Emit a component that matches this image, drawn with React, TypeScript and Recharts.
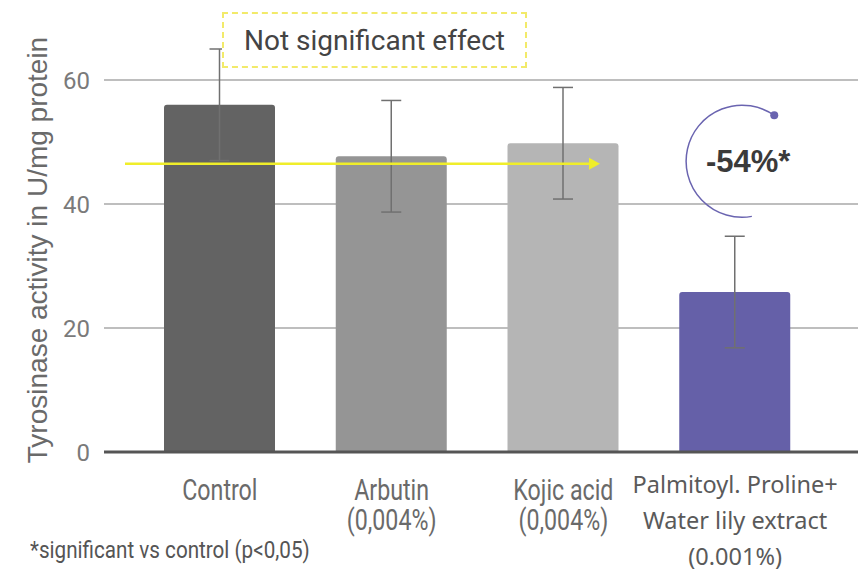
import React from "react";
import {
  BarChart,
  Bar,
  Cell,
  XAxis,
  YAxis,
  CartesianGrid,
  ErrorBar,
  ReferenceLine,
  ReferenceDot,
} from "recharts";

const categories = [
  "Control",
  "Arbutin\n(0,004%)",
  "Kojic acid\n(0,004%)",
  "Palmitoyl. Proline+\nWater lily extract\n(0.001%)",
];
const activity = [56, 47.7, 49.8, 25.8];
const deviation = [9, 9, 9, 9];
const barColors = ["#636363", "#959595", "#b5b5b5", "#6560a8"];
const yTicks = [0, 20, 40, 60];

const data = categories.map((name, i) => ({
  name,
  value: activity[i],
  err: deviation[i],
}));

function CategoryTick(props: any) {
  const { x, y, payload } = props;
  const lines: string[] = String(payload.value).split("\n");
  const isLong = lines.length > 2;
  if (isLong) {
    return (
      <g transform={`translate(${x},${y})`}>
        <text textAnchor="middle" fill="#5a5a5a" fontSize={23.5} fontFamily="'Noto Sans', sans-serif">
          {lines.map((l, i) => (
            <tspan key={i} x={0} dy={i === 0 ? 33 : 36}>
              {l}
            </tspan>
          ))}
        </text>
      </g>
    );
  }
  return (
    <g transform={`translate(${x},${y}) scale(0.8,1)`}>
      <text textAnchor="middle" fill="#6a6a6a" fontSize={29} fontFamily="Roboto, sans-serif">
        {lines.map((l, i) => (
          <tspan key={i} x={0} dy={i === 0 ? 40 : 30}>
            {l}
          </tspan>
        ))}
      </text>
    </g>
  );
}

function ArrowShape(props: any) {
  const { x1, x2, y1 } = props;
  const start = x1 + 21;
  const end = x2 - 258;
  return (
    <g>
      <line x1={start} y1={y1} x2={end - 8} y2={y1} stroke="#f0ee2a" strokeWidth={2.5} />
      <polygon
        points={`${end},${y1} ${end - 11},${y1 - 6} ${end - 11},${y1 + 6}`}
        fill="#f0ee2a"
      />
    </g>
  );
}

function ReductionBadge(props: any) {
  const { cx, cy } = props;
  const ox = cx + 7;
  const r = 56;
  const a0 = (-55 * Math.PI) / 180;
  const a1 = (80 * Math.PI) / 180;
  const sx = ox + r * Math.cos(a0);
  const sy = cy + r * Math.sin(a0);
  const ex = ox + r * Math.cos(a1);
  const ey = cy + r * Math.sin(a1);
  return (
    <g>
      <path
        d={`M ${sx} ${sy} A ${r} ${r} 0 1 0 ${ex} ${ey}`}
        fill="none"
        stroke="#6a64b0"
        strokeWidth={1.5}
      />
      <circle cx={sx} cy={sy} r={4} fill="#6a64b0" />
      <text
        x={ox + 6}
        y={cy + 11}
        textAnchor="middle"
        fontSize={31}
        fontWeight="bold"
        fontFamily="'Liberation Sans', Arial, sans-serif"
        fill="#3a3a3a"
      >
        -54%*
      </text>
    </g>
  );
}

export default function App() {
  return (
    <div style={{ position: "absolute", left: 0, top: 0, width: 868, height: 571, background: "#fff" }}>
      <BarChart
        width={868}
        height={571}
        data={data}
        margin={{ top: 18, right: 10, bottom: 19, left: 0 }}
      >
        <CartesianGrid vertical={false} horizontalValues={[20, 40, 60]} stroke="#a8a8a8" strokeWidth={1.5} />
        <XAxis
          dataKey="name"
          axisLine={false}
          tickLine={false}
          interval={0}
          height={100}
          padding={{ left: 30, right: 37 }}
          tick={<CategoryTick />}
        />
        <YAxis
          width={104}
          domain={[0, 70]}
          ticks={yTicks}
          axisLine={false}
          tickLine={false}
          tickMargin={8}
          tick={{ fill: "#7a7a7a", fontSize: 24, fontFamily: "Roboto, sans-serif" }}
          label={{
            value: "Tyrosinase activity in U/mg protein",
            angle: -90,
            position: "insideLeft",
            offset: 0,
            dx: 37,
            dy: 15,
            style: {
              fill: "#6a6a6a",
              fontSize: 28,
              fontFamily: "'Liberation Sans', Arial, sans-serif",
              textAnchor: "middle",
            },
          }}
        />
        <Bar dataKey="value" barSize={111} radius={[3, 3, 0, 0]} isAnimationActive={false}>
          {data.map((d, i) => (
            <Cell key={d.name} fill={barColors[i]} />
          ))}
          <ErrorBar dataKey="err" width={10} stroke="#707070" strokeWidth={1.5} />
        </Bar>
        <ReferenceLine y={0} stroke="#555" strokeWidth={3} />
        <ReferenceLine y={46.5} shape={<ArrowShape />} />
        <ReferenceDot
          x={categories[3]}
          y={46.9}
          r={0}
          shape={<ReductionBadge />}
        />
      </BarChart>
      <div
        style={{
          position: "absolute",
          left: 222,
          top: 12,
          width: 305,
          height: 56,
          boxSizing: "border-box",
          border: "2px dashed #f2ea6a",
          background: "#fff",
          display: "flex",
          alignItems: "center",
          justifyContent: "center",
          fontFamily: "Roboto, sans-serif",
          fontSize: 28,
          color: "#444",
        }}
      >
        Not significant effect
      </div>
      <div
        style={{
          position: "absolute",
          left: 30,
          top: 536,
          fontFamily: "Roboto, sans-serif",
          fontSize: 24,
          lineHeight: "28px",
          color: "#555",
          whiteSpace: "nowrap",
          transform: "scaleX(0.86)",
          transformOrigin: "left top",
        }}
      >
        *significant vs control (p&lt;0,05)
      </div>
    </div>
  );
}
